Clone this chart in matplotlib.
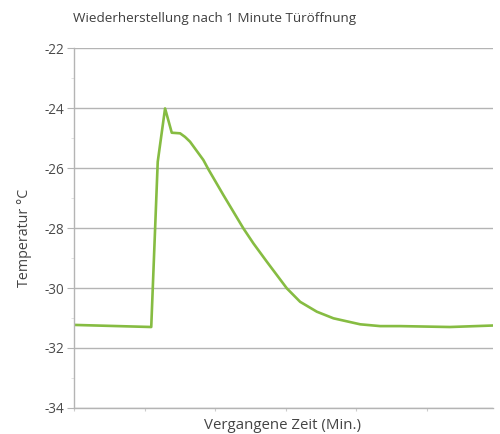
import matplotlib
matplotlib.use("Agg")
import matplotlib.pyplot as plt
import numpy as np

# Data
time_min = [0, 10.95, 11.87, 12.91, 13.86, 15.04, 15.74, 16.45, 18.34, 19.05, 21.18,
            24.01, 25.43, 27.33, 30.17, 32.06, 34.43, 36.78, 40.57, 43.4, 46.24,
            53.3, 59.4]
temperature = [-31.23, -31.3, -25.79, -24.01, -24.82, -24.84, -24.96, -25.12, -25.73,
               -26.04, -26.9, -28.01, -28.51, -29.12, -30.01, -30.46, -30.79, -31.01,
               -31.21, -31.27, -31.27, -31.3, -31.25]
y_ticks = [-34, -32, -30, -28, -26, -24, -22]
x_ticks = [0, 10, 20, 30, 40, 50]

title = "Wiederherstellung nach 1 Minute Türöffnung"
xlabel = "Vergangene Zeit (Min.)"
ylabel = "Temperatur °C"

plt.rcParams['font.family'] = ['Open Sans', 'DejaVu Sans']

fig = plt.figure(figsize=(5, 4.34), dpi=100)
ax = fig.add_axes([0.148, 0.06, 0.838, 0.829])

ax.plot(time_min, temperature, color="#86bc42", linewidth=1.9,
        solid_joinstyle="round", solid_capstyle="round")

ax.set_xlim(0, 59.4)
ax.set_ylim(-34, -22)
ax.set_yticks(y_ticks)
ax.set_yticklabels([str(v) for v in y_ticks])
ax.set_yticks(np.arange(-33, -22, 2), minor=True)
ax.set_xticks(x_ticks)
ax.set_xticklabels([])

ax.grid(axis="y", which="major", color="#b4b4b4", linewidth=1.0)
ax.set_axisbelow(True)
for s in ["top", "right"]:
    ax.spines[s].set_visible(False)
for s in ["left", "bottom"]:
    ax.spines[s].set_color("#b4b4b4")
    ax.spines[s].set_linewidth(1.0)

ax.tick_params(axis="y", which="major", length=5, color="#b4b4b4", labelsize=9.8,
               labelcolor="#4a4a4a", pad=2)
ax.tick_params(axis="y", which="minor", length=2, color="#dddddd")
ax.tick_params(axis="x", which="major", length=2, color="#cccccc")

fig.text(0.564, 0.002, xlabel, fontsize=10.8, color="#444444", ha="center", va="bottom")
ax.set_ylabel(ylabel, fontsize=10.3, color="#444444")
ax.yaxis.set_label_coords(-0.1, 0.474)
fig.text(0.146, 0.958, title, fontsize=9.7, color="#3f3f3f", ha="left", va="center")

fig.savefig("out.png", dpi=100)
